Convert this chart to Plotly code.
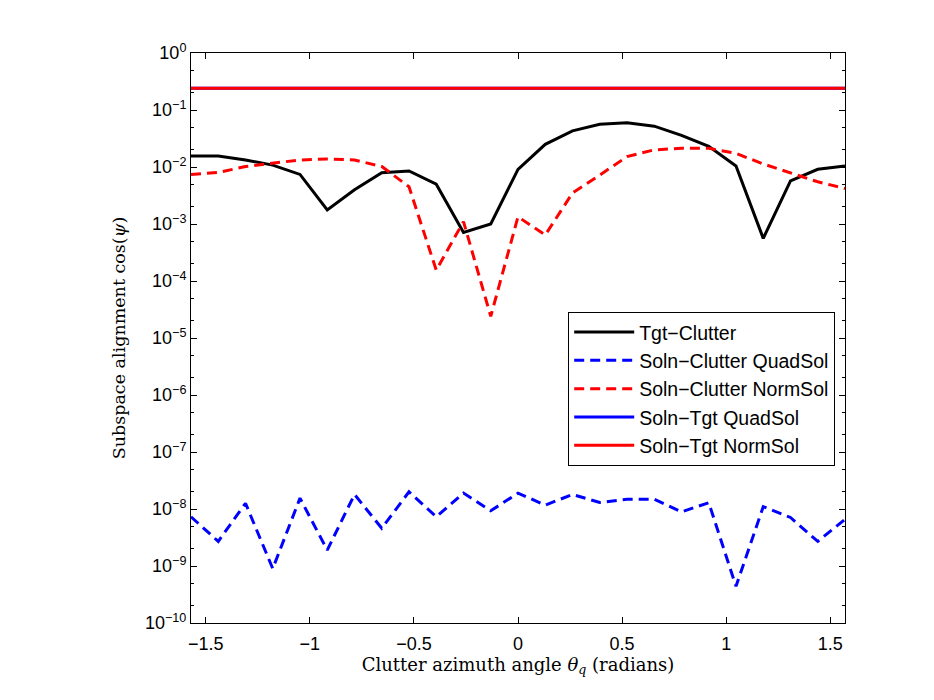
import numpy as np
import plotly.graph_objects as go

theta = list(np.linspace(-np.pi/2, np.pi/2, 25))

tgt_clutter = [0.0156, 0.0156, 0.0133, 0.0108, 0.0074, 0.00176, 0.0040, 0.0079, 0.0085,
               0.0050, 0.00071, 0.0010, 0.0091, 0.025, 0.043, 0.056, 0.060, 0.052,
               0.036, 0.023, 0.0104, 0.00056, 0.0057, 0.0091, 0.0104]
soln_clutter_quad = [7.3e-9, 2.7e-9, 1.26e-8, 9e-10, 1.55e-8, 1.9e-9, 1.8e-8, 4.6e-9, 2.0e-8,
                     7.3e-9, 1.9e-8, 9.3e-9, 1.9e-8, 1.17e-8, 1.8e-8, 1.3e-8, 1.48e-8, 1.48e-8,
                     8.9e-9, 1.29e-8, 4.4e-10, 1.1e-8, 7.1e-9, 2.7e-9, 6.6e-9]
soln_clutter_norm = [0.0074, 0.0080, 0.0102, 0.0116, 0.0133, 0.0138, 0.0133, 0.0102, 0.0045,
                     0.000155, 0.0011, 2.4e-5, 0.00134, 0.00064, 0.0035, 0.0072, 0.0152, 0.020,
                     0.0213, 0.0213, 0.0173, 0.0113, 0.0078, 0.0055, 0.0042]
soln_tgt_quad = [0.24] * 25
soln_tgt_norm = [0.24] * 25

xticks = [-1.5, -1, -0.5, 0, 0.5, 1, 1.5]
yexp = list(range(-10, 1))
yticktext = ["10<sup>%s</sup>" % (str(e).replace("-", "−")) for e in yexp]

fig = go.Figure()
fig.add_trace(go.Scatter(x=theta, y=tgt_clutter, mode="lines", name="Tgt−Clutter",
                         line=dict(color="black", width=3)))
fig.add_trace(go.Scatter(x=theta, y=soln_clutter_quad, mode="lines", name="Soln−Clutter QuadSol",
                         line=dict(color="blue", width=3, dash="10px,6px")))
fig.add_trace(go.Scatter(x=theta, y=soln_clutter_norm, mode="lines", name="Soln−Clutter NormSol",
                         line=dict(color="red", width=3, dash="10px,6px")))
fig.add_trace(go.Scatter(x=theta, y=soln_tgt_quad, mode="lines", name="Soln−Tgt QuadSol",
                         line=dict(color="blue", width=3)))
fig.add_trace(go.Scatter(x=theta, y=soln_tgt_norm, mode="lines", name="Soln−Tgt NormSol",
                         line=dict(color="red", width=3)))

axis_common = dict(showgrid=False, zeroline=False, showline=True, linecolor="black", linewidth=1,
                   mirror="ticks", ticks="inside", tickcolor="black")

fig.update_layout(
    width=934, height=700,
    margin=dict(l=191, r=89, t=53, b=77),
    paper_bgcolor="white", plot_bgcolor="white",
    xaxis=dict(range=[-np.pi/2, np.pi/2], tickvals=xticks, ticklen=6, ticklabelstandoff=4,
               tickfont=dict(family="Liberation Sans, Arial", size=18, color="black"),
               title=dict(text="Clutter azimuth angle <i>θ<sub>q</sub></i> (radians)",
                          font=dict(family="DejaVu Serif, Liberation Serif", size=18, color="black"),
                          standoff=5),
               **axis_common),
    yaxis=dict(type="log", range=[-10, 0], tickvals=[10.0**e for e in yexp], ticktext=yticktext,
               ticklen=6,
               tickfont=dict(family="Liberation Sans, Arial", size=18, color="black"),
               minor=dict(ticks="inside", ticklen=3, tickcolor="black", showgrid=False),
               title=dict(text="Subspace alignment cos(<i>ψ</i>)",
                          font=dict(family="DejaVu Serif, Liberation Serif", size=17.5, color="black"),
                          standoff=14),
               **axis_common),
    legend=dict(x=0.985, y=0.546, xanchor="right", yanchor="top",
                bgcolor="white", bordercolor="black", borderwidth=1,
                font=dict(family="Liberation Sans, Arial", size=19.5, color="black"),
                tracegroupgap=0, itemwidth=60),
    showlegend=True,
)

fig.write_html("out.html")
